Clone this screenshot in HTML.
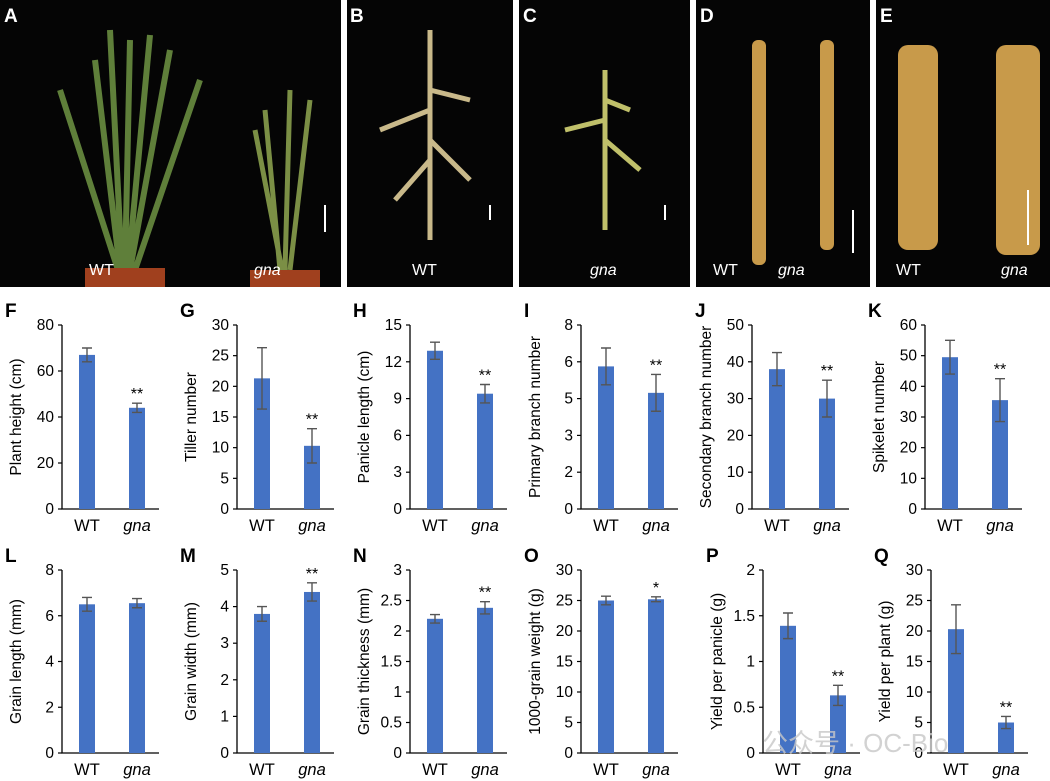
<!DOCTYPE html>
<html><head><meta charset="utf-8"><style>
body{margin:0;background:#fff;width:1050px;height:781px;overflow:hidden;font-family:"Liberation Sans","Noto Sans CJK SC",sans-serif}
svg{position:absolute;left:0;top:0}
</style></head><body>
<svg id="fig" width="1050" height="781">
<g>
<rect x="0" y="0" width="341" height="287" fill="#050505"/>
<rect x="347" y="0" width="166" height="287" fill="#050505"/>
<rect x="519" y="0" width="171" height="287" fill="#050505"/>
<rect x="696" y="0" width="174" height="287" fill="#050505"/>
<rect x="876" y="0" width="174" height="287" fill="#050505"/>
<path d="M120 270 L95 60 M125 270 L130 40 M130 270 L170 50 M118 270 L60 90 M135 270 L200 80 M122 270 L110 30 M128 270 L150 35" stroke="#5f7f3a" stroke-width="6"/>
<rect x="85" y="268" width="80" height="19" fill="#a0401e"/>
<path d="M280 270 L265 110 M285 270 L290 90 M290 270 L310 100 M282 270 L255 130" stroke="#7b8f45" stroke-width="5"/>
<rect x="250" y="270" width="70" height="17" fill="#a0401e"/>
<path d="M430 240 L430 30 M430 110 L380 130 M430 140 L470 180 M430 90 L470 100 M430 160 L395 200" stroke="#c9b98a" stroke-width="5"/>
<path d="M605 230 L605 70 M605 120 L565 130 M605 140 L640 170 M605 100 L630 110" stroke="#c0c06a" stroke-width="5"/>
<rect x="752" y="40" width="14" height="225" rx="6" fill="#c89a4a"/>
<rect x="820" y="40" width="14" height="210" rx="6" fill="#c89a4a"/>
<rect x="898" y="45" width="40" height="205" rx="10" fill="#c89a4a"/>
<rect x="996" y="45" width="44" height="210" rx="10" fill="#c89a4a"/>
<g fill="#fff" font-size="16">
<text x="89" y="275">WT</text><text x="254" y="275" font-style="italic">gna</text>
<text x="412" y="275">WT</text><text x="590" y="275" font-style="italic">gna</text>
<text x="713" y="275">WT</text><text x="778" y="275" font-style="italic">gna</text>
<text x="896" y="275">WT</text><text x="1001" y="275" font-style="italic">gna</text>
</g>
<g stroke="#fff" stroke-width="2">
<line x1="325" y1="205" x2="325" y2="232"/><line x1="490" y1="205" x2="490" y2="220"/><line x1="665" y1="205" x2="665" y2="220"/><line x1="853" y1="210" x2="853" y2="253"/><line x1="1028" y1="190" x2="1028" y2="245"/>
</g>
<g fill="#fff" font-size="19" font-weight="bold">
<text x="4" y="22">A</text><text x="350" y="22">B</text><text x="523" y="22">C</text><text x="700" y="22">D</text><text x="880" y="22">E</text>
</g>
</g>
<g id="charts"></g>
<text x="762" y="752" font-size="26" fill="#c8c8c8" opacity="0.8">公众号 · OC-Bio</text>
</svg>
<script>
const letters=["F","G","H","I","J","K","L","M","N","O","P","Q"];
const ylabels=["Plant height (cm)","Tiller number","Panicle length (cm)","Primary branch number","Secondary branch number","Spikelet number","Grain length (mm)","Grain width (mm)","Grain thickness (mm)","1000-grain weight (g)","Yield per panicle (g)","Yield per plant (g)"];
const categories=["WT","gna"];
const wtValues=[67,21.3,12.9,6.2,38,49.5,6.5,3.8,2.2,25,1.39,20.3];
const gnaValues=[44,10.3,9.4,5.05,30,35.5,6.55,4.4,2.38,25.2,0.63,5];
const wtErr=[3,5,0.7,0.8,4.5,5.5,0.3,0.2,0.07,0.7,0.14,4];
const gnaErr=[2,2.8,0.75,0.8,5,7,0.2,0.25,0.1,0.4,0.11,1];
const yMax=[80,30,15,8,50,60,8,5,3,30,2,30];
const tickStep=[20,5,3,1.6,10,10,2,1,0.5,5,0.5,5];
const sig=["**","**","**","**","**","**","","**","**","*","**","**"];
const NS="http://www.w3.org/2000/svg";
const g=document.getElementById('charts');
function el(t,a,p){const e=document.createElementNS(NS,t);for(const k in a)e.setAttribute(k,a[k]);(p||g).appendChild(e);return e;}
const axX=[62,237,410,581,752,925,62,237,410,581,763,931];
for(let i=0;i<12;i++){
  const row=i<6?0:1;
  const top=row?570:325, bot=row?753:509;
  const ax=axX[i];
  const grp=el('g',{});
  
  
  const y=v=>bot-(v/yMax[i])*(bot-top);
  const xc=k=>ax+25+k*50;
  const lt=el('text',{x:ax-57,y:top-8,'font-size':19,'font-weight':'bold'},grp);lt.textContent=letters[i];
  
  const axis=el('path',{d:`M${ax} ${top}V${bot}H${ax+97}`,stroke:'#000','stroke-width':1.3,fill:'none'},grp);
  
  const n=Math.round(yMax[i]/tickStep[i]);
  for(let t=0;t<=n;t++){const v=t*tickStep[i];const yy=y(v);
    el('line',{x1:ax-4,x2:ax,y1:yy,y2:yy,stroke:'#000','stroke-width':1.2},grp);
    const tx=el('text',{x:ax-8,y:yy+5,'font-size':15.5,'text-anchor':'end'},grp);
    tx.textContent=tickStep[i]===1.6?String(Math.round(v)):String(+v.toFixed(2));
    }
  const yl=el('text',{transform:`translate(${ax-41},${(top+bot)/2}) rotate(-90)`,'font-size':15.5,'text-anchor':'middle'},grp);
  yl.textContent=ylabels[i];
  const vals=[wtValues[i],gnaValues[i]],errs=[wtErr[i],gnaErr[i]];
  for(let k=0;k<2;k++){
    const b=el('rect',{x:xc(k)-8,y:y(vals[k]),width:16,height:bot-y(vals[k]),fill:'#4472c4'},grp);
    
    const e1=y(vals[k]+errs[k]),e2=y(vals[k]-errs[k]);
    const eb=el('path',{d:`M${xc(k)} ${e1}V${e2}M${xc(k)-5} ${e1}H${xc(k)+5}M${xc(k)-5} ${e2}H${xc(k)+5}`,stroke:'#555','stroke-width':1.4,fill:'none'},grp);
    
    const xl=el('text',{x:xc(k),y:bot+22,'font-size':16.5,'text-anchor':'middle','font-style':k?'italic':'normal'},grp);
    xl.textContent=categories[k];
  }
  if(sig[i]){const s=el('text',{x:xc(1),y:y(gnaValues[i]+gnaErr[i])-4,'font-size':16,'text-anchor':'middle'},grp);
    s.textContent=sig[i];}
}
</script>
</body></html>
